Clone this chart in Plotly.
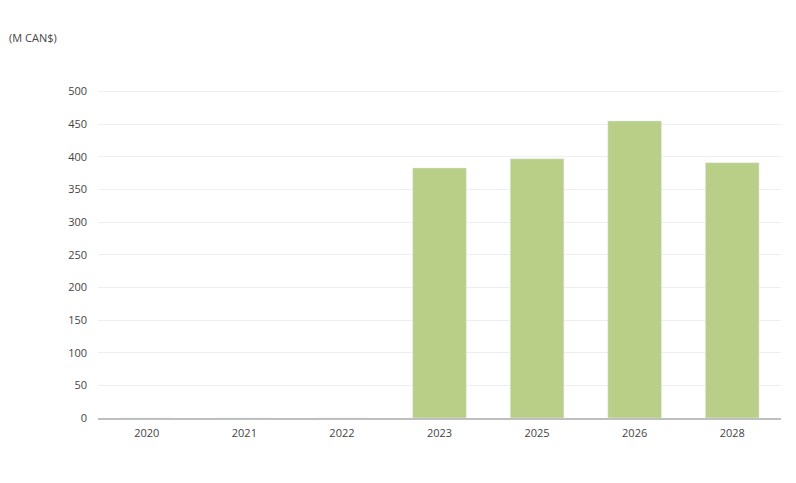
import plotly.graph_objects as go

# Data
years = ["2020", "2021", "2022", "2023", "2025", "2026", "2028"]
values = [0, 0, 0, 383, 397, 455, 391]
y_ticks = [0, 50, 100, 150, 200, 250, 300, 350, 400, 450, 500]

fig = go.Figure()

fig.add_trace(go.Bar(
    x=years,
    y=values,
    marker=dict(color="#b9cf87"),
    width=0.55,
))

fig.update_layout(
    width=796,
    height=483,
    margin=dict(l=90, r=23, t=77, b=73),
    plot_bgcolor="white",
    paper_bgcolor="white",
    font=dict(family="Open Sans", size=11, color="#444444"),
    showlegend=False,
    xaxis=dict(
        showline=True,
        linecolor="#bfbfbf",
        linewidth=2,
        ticks="",
        showgrid=False,
        ticklabelstandoff=4,
    ),
    yaxis=dict(
        range=[0, 510],
        tickvals=y_ticks,
        showgrid=True,
        gridcolor="#eeeeee",
        zeroline=False,
        ticklabelstandoff=10,
    ),
    annotations=[
        dict(
            x=0, y=1, xref="paper", yref="paper",
            xanchor="left", yanchor="top",
            text="(M CAN$)",
            showarrow=False,
            font=dict(size=11, color="#444444"),
            xshift=-91, yshift=57,
        )
    ],
)

fig.write_html("out.html")
